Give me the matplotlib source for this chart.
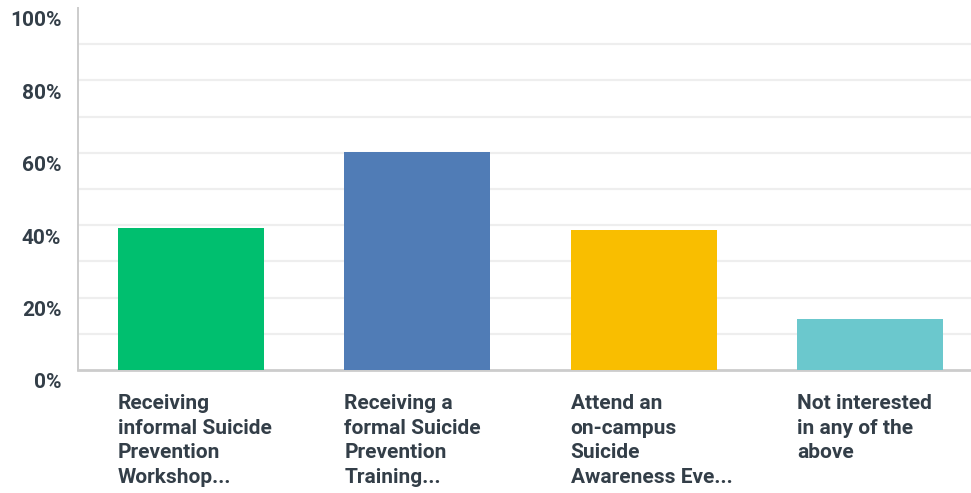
import matplotlib
matplotlib.use("Agg")
import matplotlib.pyplot as plt
import matplotlib.transforms as mtransforms

# answer options and share of respondents (%)
options = [
    "Receiving\ninformal Suicide\nPrevention\nWorkshop...",
    "Receiving a\nformal Suicide\nPrevention\nTraining...",
    "Attend an\non-campus\nSuicide\nAwareness Eve...",
    "Not interested\nin any of the\nabove",
]
shares = [39.1, 60.2, 38.7, 14.1]
colors = ["#00bf6f", "#507cb6", "#f9be00", "#6bc8cd"]
ytick_vals = [0, 20, 40, 60, 80, 100]
ytick_text = ["0%", "20%", "40%", "60%", "80%", "100%"]

text_col = "#333e48"
plt.rcParams["font.family"] = ["Roboto", "DejaVu Sans"]

fig = plt.figure(figsize=(9.71, 4.93), dpi=100)
ax = fig.add_axes([78 / 971, 123 / 493, 893 / 971, 362 / 493])

bar_w = 0.646
xs = list(range(len(options)))
ax.bar(xs, shares, width=bar_w, color=colors, zorder=3)

ax.set_xlim(-0.5, 3.447)
ax.set_ylim(0, 100)

for g in range(10, 100, 10):
    ax.axhline(g, color="#eeeeee", lw=1.6, zorder=1)

ax.set_yticks(ytick_vals)
ax.set_yticklabels(ytick_text, fontsize=15, fontweight="bold", color=text_col)
ax.tick_params(axis="y", length=0, pad=12)
shift = mtransforms.ScaledTranslation(0, -11 / 100, fig.dpi_scale_trans)
for lab in ax.get_yticklabels():
    lab.set_transform(lab.get_transform() + shift)

ax.set_xticks([])
trans = mtransforms.blended_transform_factory(ax.transData, ax.transAxes)
for x, name in zip(xs, options):
    ax.text(x - bar_w / 2, -0.066, name, transform=trans, ha="left", va="top",
            fontsize=15, fontweight="bold", color=text_col, linespacing=1.38)

for side in ["top", "right"]:
    ax.spines[side].set_visible(False)
ax.spines["left"].set_color("#cccccc")
ax.spines["left"].set_linewidth(1.4)
ax.spines["bottom"].set_color("#cccccc")
ax.spines["bottom"].set_linewidth(2)

fig.savefig("out.png", dpi=100)
